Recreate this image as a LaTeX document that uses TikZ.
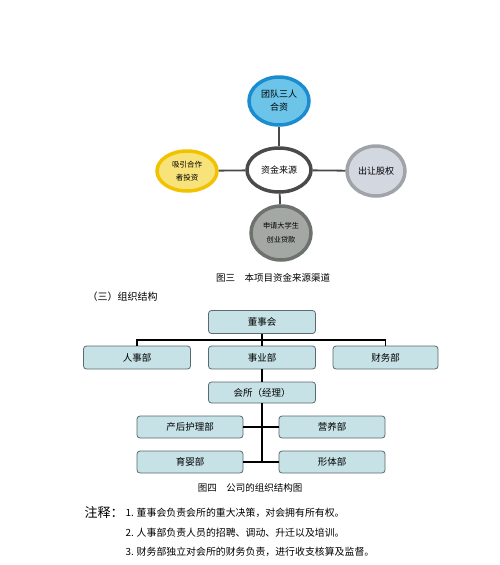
\documentclass[tikz,border=0pt]{standalone}
\usepackage{fontspec}
\setmainfont{Noto Sans CJK SC}
\usepackage{tikz}
\usetikzlibrary{shapes.geometric}
\definecolor{teamfill}{HTML}{6CC4E8}
\definecolor{teamedge}{HTML}{1B8CD0}
\definecolor{inviteedge}{HTML}{F2C200}
\definecolor{invitefill}{HTML}{F8E27A}
\definecolor{sharefill}{HTML}{D3D7E0}
\definecolor{shareedge}{HTML}{A0A4AA}
\definecolor{loanfill}{HTML}{A4A8A4}
\definecolor{loanedge}{HTML}{6E726E}
\definecolor{hubedge}{HTML}{4A4A4A}
\definecolor{boxfill}{HTML}{C6E2E6}
\definecolor{boxedge}{HTML}{5A6A6E}

\begin{document}
\begin{tikzpicture}[x=1pt, y=-1pt,
    source/.style={ellipse, line width=3.5pt, inner sep=0pt, align=center, font=\fontsize{9}{13}\selectfont},
    spoke/.style={line width=1.8pt, hubedge},
    dept/.style={rectangle, rounded corners=3pt, draw=boxedge, fill=boxfill, line width=0.8pt, minimum width=107pt, minimum height=23pt, inner sep=0pt, font=\fontsize{9.5}{11}\selectfont},
    link/.style={line width=1.8pt, black},
    caption/.style={font=\fontsize{9.5}{11}\selectfont},
    remark/.style={anchor=west, font=\fontsize{9.9}{11}\selectfont}
]
    \useasboundingbox[fill=white] (0,0) rectangle (500,565);

    % funding sources
    \node[source, draw=hubedge, fill=white, minimum width=64pt, minimum height=44pt] (hub) at (279,170) {资金来源};
    \node[source, draw=teamedge, fill=teamfill, minimum width=60pt, minimum height=48pt] (team) at (279,101) {团队三人\\合资};
    \node[source, draw=inviteedge, fill=invitefill, minimum width=60pt, minimum height=40pt, font=\fontsize{7.5}{13}\selectfont] (invite) at (187,171) {吸引合作\\者投资};
    \node[source, draw=shareedge, fill=sharefill, minimum width=58pt, minimum height=50pt] (share) at (376,171) {出让股权};
    \node[source, draw=loanedge, fill=loanfill, minimum width=60pt, minimum height=54pt, font=\fontsize{7.2}{14}\selectfont] (loan) at (281,233) {申请大学生\\创业贷款};

    \draw[spoke] (hub) -- (team);
    \draw[spoke] (hub) -- (invite);
    \draw[spoke] (hub) -- (share);
    \draw[spoke] (hub) -- (loan);

    \node[caption] (cap3) at (273,278) {图三\quad 本项目资金来源渠道};
    \node[caption, font=\fontsize{10}{12}\selectfont, anchor=west] (sec) at (84,297) {（三）组织结构};

    % organisation
    \node[dept] (board)    at (262,322)   {董事会};
    \node[dept] (renshi)   at (137,357.5) {人事部};
    \node[dept] (shiye)    at (262,357.5) {事业部};
    \node[dept, minimum width=105pt] (caiwu) at (385.5,357.5) {财务部};
    \node[dept, minimum height=21pt] (huisuo) at (262,392.5) {会所（经理）};
    \node[dept, minimum width=106pt, minimum height=22pt] (chanhou)  at (190,427) {产后护理部};
    \node[dept, minimum width=106pt, minimum height=22pt] (yingyang) at (332,427) {营养部};
    \node[dept, minimum width=106pt, minimum height=22pt] (yuying)   at (190,462) {育婴部};
    \node[dept, minimum width=106pt, minimum height=22pt] (xingti)   at (332,462) {形体部};

    \coordinate (bus) at (262,340);
    \coordinate (trunk) at (262,462);

    \draw[link] (board.south) -- (shiye.north);
    \draw[link] (renshi.north) |- (bus) -| (caiwu.north);
    \draw[link] (shiye.south) -- (huisuo.north);
    \draw[link] (huisuo.south) -- (trunk);
    \draw[link] (chanhou.east) -- (yingyang.west);
    \draw[link] (yuying.east) -- (xingti.west);

    \node[caption] (cap4) at (250,488) {图四\quad 公司的组织结构图};

    % notes
    \node[anchor=west, font=\fontsize{13}{15}\selectfont] (note) at (81,513) {注释：};
    \node[remark] (note1) at (122,513) {1. 董事会负责会所的重大决策，对会拥有所有权。};
    \node[remark] (note2) at (122,533) {2. 人事部负责人员的招聘、调动、升迁以及培训。};
    \node[remark] (note3) at (122,552) {3. 财务部独立对会所的财务负责，进行收支核算及监督。};
\end{tikzpicture}
\end{document}
